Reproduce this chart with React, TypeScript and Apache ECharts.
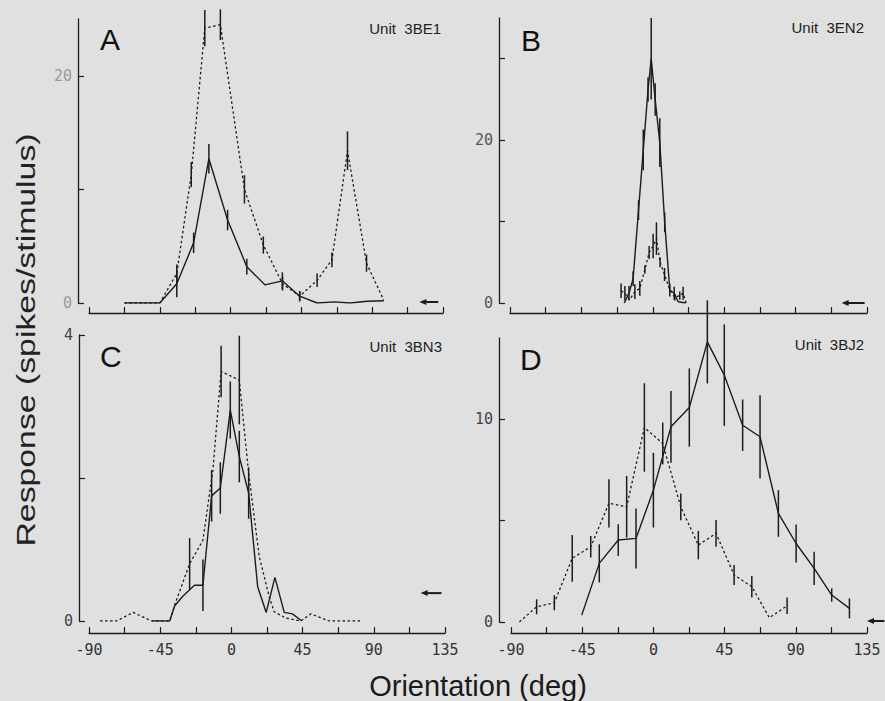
import React, { useEffect, useRef } from 'react';
import * as echarts from 'echarts';

// ---------- axis values ----------
const X_MIN = -90;
const X_MAX = 135;
const X_STEP = 22.5;

// ---------- Panel A (Unit 3BE1) ----------
const aSolidX = [-67.5, -45, -34.2, -23.5, -13.8, -1.9, 10.3, 21.8, 32.9, 43.9, 55, 65.9, 75.9, 86.8, 97.3];
const aSolidY = [0, 0, 1.7, 5.3, 12.7, 7.3, 3.2, 1.6, 1.95, 0.6, 0, 0.1, 0, 0.15, 0.2];
const aSolidErr = [0, 0, 1.2, 0.9, 1.3, 0.9, 0.7, 0, 0.75, 0.45, 0, 0, 0, 0, 0];
const aDashX = [-67.5, -45, -34.2, -25, -16.4, -6.5, 8.8, 20.8, 33, 43.9, 55, 64.4, 74.3, 86.4, 97.3];
const aDashY = [0, 0, 2.6, 11.3, 24.2, 24.5, 10.0, 5.1, 1.7, 0.6, 2.0, 3.8, 13.4, 3.5, 0.25];
const aDashErr = [0, 0, 0.8, 1.1, 1.6, 1.35, 1.25, 0.75, 0.6, 0.45, 0.6, 0.65, 1.7, 0.75, 0];
const aSpont = [132, 120, 0.09];

// ---------- Panel B (Unit 3EN2) ----------
const bSolidX = [-18, -15, -12.4, -9, -6, -3, -1, 1.5, 4.4, 7.5, 10.7, 13.5, 16, 20.8];
const bSolidY = [0, 1.2, 3.0, 11.4, 18.8, 26.2, 30, 25, 19.7, 9.9, 1.6, 1.2, 0.15, 0];
const bSolidErr = [0, 0.9, 0.9, 1.2, 2.5, 1.5, 5, 2, 3, 1.2, 0.8, 0.8, 0, 0];
const bDashX = [-20, -17.6, -14.5, -11.3, -8.2, -5, -2.3, 0.2, 2.3, 4.6, 7.4, 10.7, 13.9, 17, 19.1, 21];
const bDashY = [1.5, 1.2, 0.4, 1.4, 1.8, 4.1, 6.2, 7.0, 7.9, 5.0, 3.5, 1.6, 0.7, 0.9, 1.2, 0];
const bDashErr = [0.9, 0.9, 0, 0.9, 0.9, 0.5, 0.8, 1.5, 2, 0.6, 0.8, 0, 0.4, 0.5, 0.8, 0];
const bSpont = [133.5, 119, 0];

// ---------- Panel C (Unit 3BN3) ----------
const cSolidX = [-50, -39, -35.9, -30.6, -23.3, -18, -12.5, -7, -0.7, 5, 10.9, 16.6, 22, 27.5, 33.4, 38.6, 44.5];
const cSolidY = [0, 0, 0.21, 0.35, 0.5, 0.5, 1.75, 1.86, 2.95, 2.3, 1.79, 0.48, 0.12, 0.61, 0.12, 0.1, 0];
const cSolidErr = [0, 0, 0, 0, 0, 0.36, 0.36, 0.36, 0.4, 0.36, 0.36, 0, 0, 0, 0, 0, 0];
const cDashX = [-83, -72.6, -62.1, -50.5, -39, -35.9, -26.4, -18, -11.7, -6.5, 5, 10.9, 17.6, 23.9, 27, 34.4, 43.9, 50.2, 61.7, 82.6];
const cDashY = [0, 0, 0.12, 0, 0, 0.22, 0.8, 1.13, 2.11, 3.49, 3.37, 2.07, 0.9, 0.34, 0.13, 0.04, 0, 0.1, 0, 0];
const cDashErr = [0, 0, 0, 0, 0, 0, 0.36, 0, 0, 0.36, 0.62, 0, 0, 0, 0, 0, 0, 0, 0, 0];
const cSpont = [132.8, 119.6, 0.39];

// ---------- Panel D (Unit 3BJ2) ----------
const dSolidX = [-45.3, -34.2, -22.2, -11, 0, 11.1, 22.7, 34.1, 44.8, 56.4, 67.4, 79, 90.2, 101.6, 112.7, 123.9];
const dSolidY = [0.34, 2.89, 4.04, 4.12, 6.5, 9.62, 10.57, 13.81, 12.17, 9.7, 9.13, 5.35, 3.87, 2.64, 1.33, 0.67];
const dSolidErr = [0, 0.94, 0.78, 1.48, 1.84, 1.77, 1.93, 2.05, 2.5, 1.27, 2.05, 1.15, 0.94, 0.82, 0.33, 0.49];
const dDashX = [-84.7, -73.8, -62.6, -51.3, -39.6, -28.1, -16.9, -5.7, 5.9, 17.3, 28.4, 39.6, 51, 62.2, 73.3, 84.5];
const dDashY = [0, 0.75, 0.95, 3.14, 3.71, 5.85, 5.68, 9.59, 8.8, 5.68, 3.79, 4.37, 2.32, 1.74, 0.21, 0.8];
const dDashErr = [0, 0.37, 0.37, 1.15, 0.53, 1.19, 1.52, 2.18, 1.03, 0.66, 0.7, 0.66, 0.49, 0.53, 0, 0.41];
const dSpont = [146, 135, 0.05];

// ---------- texts ----------
const X_TITLE = 'Orientation (deg)';
const Y_TITLE = 'Response (spikes/stimulus)';

const INK = '#1c1c1c';
const BG = '#e0e0e0';
const MONO = "'DejaVu Sans Mono', 'Liberation Mono', monospace";
const SANS = "'Liberation Sans', Arial, Helvetica, sans-serif";

const pairs = (xs: number[], ys: number[]) => xs.map((x, i) => [x, ys[i]]);
const triples = (xs: number[], ys: number[], es: number[]) =>
  xs.map((x, i) => [x, ys[i], es[i]]).filter((d) => d[2] > 0);

const panels = [
  {
    letter: 'A', unit: 'Unit  3BE1',
    grid: { left: 89, top: 19, width: 354, height: 284 },
    yMax: 25, yTicks: [0, 10, 20], yLabels: [0, 20], xOffset: 10, yOffset: 11,
    showXLabels: false, yLabelColor: '#9a9a9a',
    solid: [aSolidX, aSolidY, aSolidErr], dash: [aDashX, aDashY, aDashErr], spont: aSpont,
    letterPos: [100, 39], unitPos: [441, 28],
  },
  {
    letter: 'B', unit: 'Unit  3EN2',
    grid: { left: 510, top: 18, width: 357, height: 285 },
    yMax: 35, yTicks: [0, 10, 20, 30], yLabels: [0, 20], xOffset: 10, yOffset: 11,
    showXLabels: false, yLabelColor: '#555',
    solid: [bSolidX, bSolidY, bSolidErr], dash: [bDashX, bDashY, bDashErr], spont: bSpont,
    letterPos: [521, 40], unitPos: [864, 27],
  },
  {
    letter: 'C', unit: 'Unit  3BN3',
    grid: { left: 89, top: 335, width: 356, height: 286 },
    yMax: 4, yTicks: [0, 2, 4], yLabels: [0, 4], xOffset: 12, yOffset: 10,
    showXLabels: true, yLabelColor: '#444',
    solid: [cSolidX, cSolidY, cSolidErr], dash: [cDashX, cDashY, cDashErr], spont: cSpont,
    letterPos: [100, 356], unitPos: [442, 346],
  },
  {
    letter: 'D', unit: 'Unit  3BJ2',
    grid: { left: 511, top: 338, width: 356, height: 284 },
    yMax: 14, yTicks: [0, 5, 10], yLabels: [0, 10], xOffset: 11, yOffset: 12,
    showXLabels: true, yLabelColor: '#444',
    solid: [dSolidX, dSolidY, dSolidErr], dash: [dDashX, dDashY, dDashErr], spont: dSpont,
    letterPos: [520, 359], unitPos: [864, 344],
  },
];

function errorBarSeries(data: number[][], idx: number) {
  return {
    type: 'custom',
    xAxisIndex: idx,
    yAxisIndex: idx,
    clip: false,
    silent: true,
    z: 3,
    encode: { x: 0, y: 1 },
    data,
    renderItem: (_p: any, api: any) => {
      const x = api.value(0);
      const y = api.value(1);
      const e = api.value(2);
      const p1 = api.coord([x, y - e]);
      const p2 = api.coord([x, y + e]);
      return {
        type: 'line',
        shape: { x1: p1[0], y1: p1[1], x2: p2[0], y2: p2[1] },
        style: { stroke: INK, lineWidth: 1.5 },
      };
    },
  };
}

function arrowSeries(spont: number[], idx: number) {
  return {
    type: 'custom',
    xAxisIndex: idx,
    yAxisIndex: idx,
    clip: false,
    silent: true,
    z: 4,
    encode: { x: [0, 1], y: 2 },
    data: [spont],
    renderItem: (_p: any, api: any) => {
      const t = api.coord([api.value(0), api.value(2)]);
      const h = api.coord([api.value(1), api.value(2)]);
      return {
        type: 'group',
        children: [
          {
            type: 'line',
            shape: { x1: t[0], y1: t[1], x2: h[0] + 5, y2: h[1] },
            style: { stroke: INK, lineWidth: 2 },
          },
          {
            type: 'polygon',
            shape: { points: [[h[0], h[1]], [h[0] + 7, h[1] - 3], [h[0] + 7, h[1] + 3]] },
            style: { fill: INK },
          },
        ],
      };
    },
  };
}

export default function App() {
  const ref = useRef<HTMLDivElement>(null);

  useEffect(() => {
    if (!ref.current) return;
    const chart = echarts.init(ref.current, undefined, { renderer: 'svg' });

    const grid = panels.map((p) => ({ ...p.grid, containLabel: false }));
    const xAxis = panels.map((p, i) => ({
      type: 'value',
      gridIndex: i,
      min: X_MIN,
      max: X_MAX,
      interval: X_STEP,
      offset: p.xOffset,
      axisLine: { show: true, onZero: false, lineStyle: { color: INK, width: 1.3 } },
      axisTick: { show: true, inside: true, length: 6, lineStyle: { color: INK, width: 1.2 } },
      axisLabel: {
        show: p.showXLabels,
        margin: 9,
        fontFamily: MONO,
        fontSize: 15,
        color: '#333',
        formatter: (v: number) => (v % 45 === 0 ? String(v) : ''),
      },
      splitLine: { show: false },
    }));
    const yAxis = panels.map((p, i) => ({
      type: 'value',
      gridIndex: i,
      min: 0,
      max: p.yMax,
      offset: p.yOffset,
      axisLine: { show: true, onZero: false, lineStyle: { color: INK, width: 1.3 } },
      axisTick: {
        show: true, inside: true, length: 6, customValues: p.yTicks,
        lineStyle: { color: INK, width: 1.2 },
      },
      axisLabel: {
        show: true, customValues: p.yLabels, margin: 6,
        fontFamily: MONO, fontSize: 15, color: p.yLabelColor,
      },
      splitLine: { show: false },
    }));

    const series: any[] = [];
    panels.forEach((p, i) => {
      series.push({
        type: 'line', xAxisIndex: i, yAxisIndex: i, showSymbol: false, silent: true,
        data: pairs(p.solid[0], p.solid[1]),
        lineStyle: { color: INK, width: 1.4, type: 'solid' }, z: 2,
      });
      series.push({
        type: 'line', xAxisIndex: i, yAxisIndex: i, showSymbol: false, silent: true,
        data: pairs(p.dash[0], p.dash[1]),
        lineStyle: { color: INK, width: 1.3, type: [2.5, 2.5] }, z: 2,
      });
      series.push(errorBarSeries(triples(p.solid[0], p.solid[1], p.solid[2]), i));
      series.push(errorBarSeries(triples(p.dash[0], p.dash[1], p.dash[2]), i));
      series.push(arrowSeries(p.spont, i));
    });

    const graphic: any[] = [];
    panels.forEach((p) => {
      graphic.push({
        type: 'text', x: p.letterPos[0], y: p.letterPos[1],
        style: { text: p.letter, fontFamily: SANS, fontSize: 30, fill: '#111', align: 'left', verticalAlign: 'middle' },
      });
      graphic.push({
        type: 'text', x: p.unitPos[0], y: p.unitPos[1],
        style: { text: p.unit, fontFamily: SANS, fontSize: 15, fill: '#222', align: 'right', verticalAlign: 'middle' },
      });
    });
    graphic.push({
      type: 'text', x: 478, y: 686,
      style: { text: X_TITLE, fontFamily: SANS, fontSize: 29, fill: '#1a1a1a', align: 'center', verticalAlign: 'middle' },
    });
    graphic.push({
      type: 'text', x: 26, y: 340, rotation: Math.PI / 2, scaleX: 1.3,
      style: { text: Y_TITLE, fontFamily: SANS, fontSize: 26, fill: '#222', align: 'center', verticalAlign: 'middle' },
    });

    chart.setOption({
      animation: false,
      backgroundColor: BG,
      grid,
      xAxis,
      yAxis,
      series,
      graphic,
    });

    return () => chart.dispose();
  }, []);

  return (
    <div
      ref={ref}
      style={{ position: 'absolute', left: 0, top: 0, width: 885, height: 701 }}
    />
  );
}
